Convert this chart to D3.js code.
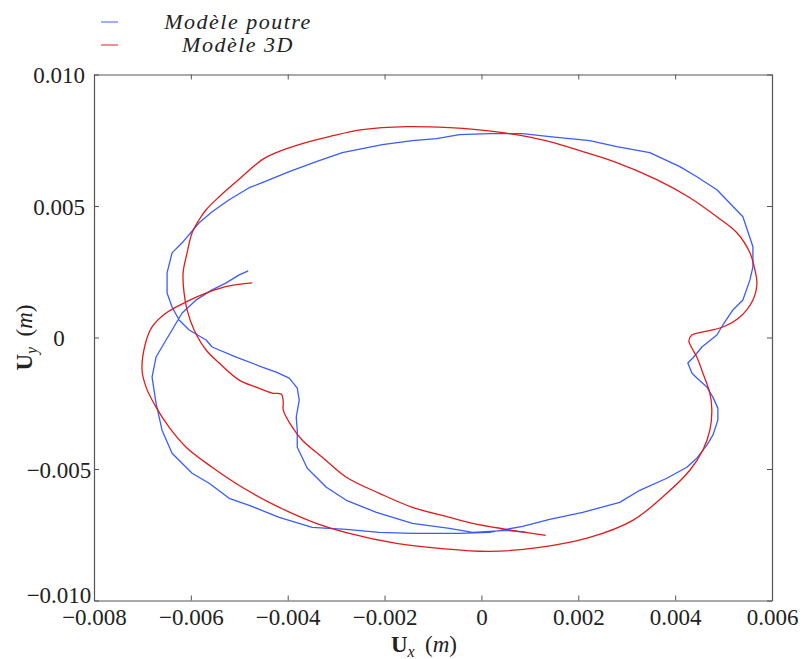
<!DOCTYPE html>
<html>
<head>
<meta charset="utf-8">
<script src="https://cdn.jsdelivr.net/npm/d3@7"></script>
<style>
  html, body { margin: 0; padding: 0; background: #fff; }
  svg { display: block; }
  text { font-family: "Liberation Serif", "DejaVu Serif", serif; fill: #222; }
</style>
</head>
<body>
<svg id="chart" width="803" height="659"></svg>
<script>
// ---- Data (metres) ----
const seriesNames = ["Modèle poutre", "Modèle 3D"];

const poutreX = [-0.004816,-0.005002,-0.005271,-0.005561,-0.005891,-0.006181,-0.006388,-0.006512,-0.006719,-0.006801,
  -0.006719,-0.006595,-0.006388,-0.005974,-0.005623,-0.005209,-0.004796,-0.004175,-0.003493,-0.002790,
  -0.002107,-0.001425,-0.000866,-0.000453,0.000168,0.000850,0.001408,0.002091,0.002856,0.003269,
  0.003828,0.004241,0.004448,0.004655,0.004779,0.004882,0.004882,0.004779,0.004655,0.004448,
  0.004345,0.004262,0.004365,0.004469,0.004552,0.004655,0.004862,0.004986,0.005193,0.005399,
  0.005544,0.005606,0.005606,0.005399,0.004862,0.004448,0.004097,0.003476,0.002794,0.002235,
  0.001408,0.000850,0.000168,-0.000453,-0.000928,-0.001425,-0.002045,-0.002872,-0.003410,-0.003968,
  -0.004527,-0.004796,-0.005209,-0.005561,-0.005829,-0.006181,-0.006388,-0.006491,-0.006491,-0.006388,
  -0.006243,-0.006036,-0.005685,-0.005561,-0.005064,-0.004527,-0.004237,-0.003968,-0.003803,-0.003762,
  -0.003824,-0.003803,-0.003803,-0.003596,-0.003203,-0.002790,-0.002169,-0.001425,-0.000660,-0.000184,
  0.000519,0.000933];
const poutreY = [0.002533,0.002381,0.002076,0.001810,0.001429,0.000933,0.000286,-0.000095,-0.000743,-0.001505,
  -0.002495,-0.003524,-0.004400,-0.005162,-0.005543,-0.006114,-0.006381,-0.006838,-0.007219,-0.007295,
  -0.007410,-0.007448,-0.007448,-0.007448,-0.007410,-0.007181,-0.006914,-0.006648,-0.006267,-0.005810,
  -0.005352,-0.004933,-0.004590,-0.004095,-0.003714,-0.003143,-0.002686,-0.002267,-0.001886,-0.001543,
  -0.001352,-0.000971,-0.000781,-0.000552,-0.000362,-0.000210,0.000095,0.000476,0.001048,0.001429,
  0.002190,0.002686,0.003448,0.004590,0.005619,0.006114,0.006495,0.007029,0.007257,0.007486,
  0.007638,0.007752,0.007752,0.007714,0.007562,0.007486,0.007333,0.007029,0.006686,0.006305,
  0.005886,0.005695,0.005238,0.004781,0.004362,0.003600,0.003219,0.002457,0.001695,0.001162,
  0.000667,0.000286,-0.000095,-0.000362,-0.000743,-0.001124,-0.001314,-0.001543,-0.001924,-0.002381,
  -0.003029,-0.003524,-0.004171,-0.004971,-0.005695,-0.006190,-0.006648,-0.007067,-0.007257,-0.007410,
  -0.007333,-0.007410];

const modele3dX = [-0.004733,-0.005209,-0.005623,-0.006098,-0.006512,-0.006801,-0.006946,-0.007008,-0.006925,-0.006719,
  -0.006450,-0.006098,-0.005561,-0.004940,-0.004175,-0.003410,-0.002728,-0.001756,-0.000866,0.000168,
  0.001201,0.002235,0.003125,0.003828,0.004303,0.004572,0.004717,0.004758,0.004717,0.004572,
  0.004448,0.004345,0.004283,0.004345,0.004572,0.004986,0.005337,0.005606,0.005689,0.005647,
  0.005544,0.005275,0.004862,0.004303,0.003621,0.002794,0.002091,0.001408,0.000581,-0.000101,
  -0.000660,-0.001549,-0.002459,-0.003141,-0.003699,-0.004237,-0.004527,-0.005064,-0.005416,-0.005685,
  -0.005829,-0.005974,-0.006078,-0.006160,-0.006140,-0.006078,-0.005933,-0.005685,-0.005416,-0.005002,
  -0.004651,-0.004320,-0.004134,-0.004092,-0.004092,-0.003906,-0.003699,-0.003286,-0.002790,-0.002107,
  -0.001425,-0.000660,-0.000184,0.000519,0.001326];
const modele3dY = [0.002076,0.001962,0.001733,0.001352,0.000933,0.000400,-0.000286,-0.001238,-0.001886,-0.002648,
  -0.003410,-0.004171,-0.004933,-0.005695,-0.006457,-0.007067,-0.007448,-0.007829,-0.008019,-0.008133,
  -0.007981,-0.007600,-0.006952,-0.005924,-0.005048,-0.004286,-0.003524,-0.002762,-0.002114,-0.001352,
  -0.000743,-0.000400,-0.000133,0.000095,0.000210,0.000400,0.000781,0.001429,0.002076,0.002571,
  0.003219,0.003981,0.004590,0.005314,0.006000,0.006648,0.007067,0.007448,0.007752,0.007905,
  0.007981,0.008019,0.007905,0.007638,0.007371,0.007029,0.006762,0.005924,0.005352,0.004857,
  0.004476,0.003981,0.003219,0.002457,0.001695,0.001048,0.000286,-0.000476,-0.000971,-0.001619,
  -0.001886,-0.002114,-0.002152,-0.002457,-0.002762,-0.003410,-0.003905,-0.004552,-0.005314,-0.005924,
  -0.006457,-0.006838,-0.007067,-0.007295,-0.007524];

const xTicks = [-0.008,-0.006,-0.004,-0.002,0,0.002,0.004,0.006];
const xTickLabels = ["\u22120.008","\u22120.006","\u22120.004","\u22120.002","0","0.002","0.004","0.006"];
const yTicks = [-0.010,-0.005,0,0.005,0.010];
const yTickLabels = ["\u22120.010","\u22120.005","0","0.005","0.010"];
const colors = ["#3a5cff","#e01b1b"];

// ---- Layout ----
const svg = d3.select("#chart");
const L = 94, R = 772, T = 74.5, B = 600.5;
const x = d3.scaleLinear().domain([-0.008, 0.006]).range([L, R]);
const y = d3.scaleLinear().domain([-0.010, 0.010]).range([B, T]);

const series = [
  {name: seriesNames[0], pts: poutreX.map((v,i)=>[v, poutreY[i]]), color: colors[0], curve: d3.curveLinear},
  {name: seriesNames[1], pts: modele3dX.map((v,i)=>[v, modele3dY[i]]), color: colors[1], curve: d3.curveCatmullRom.alpha(0.5)}
];

series.forEach(s => {
  const line = d3.line().x(d=>x(d[0])).y(d=>y(d[1])).curve(s.curve);
  svg.append("path").datum(s.pts)
    .attr("d", line)
    .attr("fill","none")
    .attr("stroke", s.color)
    .attr("stroke-width", 1.3)
    .attr("stroke-linejoin","round");
});

// ---- Axes (ticks inward on all sides) ----
const tickLen = 5;
const axisStyle = g => {
  g.select(".domain").attr("stroke","#555").attr("stroke-width",1.2);
  g.selectAll(".tick line").attr("stroke","#555").attr("stroke-width",1);
};
svg.append("g").attr("transform",`translate(0,${B})`)
  .call(d3.axisBottom(x).tickValues(xTicks).tickSizeInner(-tickLen).tickSizeOuter(0)
    .tickFormat((d,i)=>xTickLabels[i]))
  .call(axisStyle)
  .call(g => g.selectAll(".tick text").attr("y", 24).attr("dy",0)
    .style("font-size","23px").attr("fill","#222"));
svg.append("g").attr("transform",`translate(0,${T})`)
  .call(d3.axisTop(x).tickValues(xTicks).tickSizeInner(-tickLen).tickSizeOuter(0).tickFormat(""))
  .call(axisStyle);
svg.append("g").attr("transform",`translate(${L},0)`)
  .call(d3.axisLeft(y).tickValues(yTicks).tickSizeInner(-tickLen).tickSizeOuter(0)
    .tickFormat((d,i)=>yTickLabels[i]))
  .call(axisStyle)
  .call(g => g.selectAll(".tick text").attr("x", 59 - L)
    .attr("dy", d => d === -0.010 ? "0.1em" : "0.35em")
    .attr("text-anchor","middle").style("font-size","23px").attr("fill","#222"));
svg.append("g").attr("transform",`translate(${R},0)`)
  .call(d3.axisRight(y).tickValues(yTicks).tickSizeInner(-tickLen).tickSizeOuter(0).tickFormat(""))
  .call(axisStyle);

// ---- Axis titles ----
const xt = svg.append("text").attr("x", 424).attr("y", 652)
  .attr("text-anchor","middle").style("font-size","23px");
xt.append("tspan").attr("font-weight","bold").text("U");
xt.append("tspan").attr("font-style","italic").attr("dy",5).style("font-size","16px").text("x");
xt.append("tspan").attr("dy",-5).text("\u2009 (");
xt.append("tspan").attr("font-style","italic").text("m");
xt.append("tspan").text(")");

const yt = svg.append("text").attr("transform",`translate(32,${(T+B)/2}) rotate(-90)`)
  .attr("text-anchor","middle").style("font-size","23px");
yt.append("tspan").attr("font-weight","bold").text("U");
yt.append("tspan").attr("font-style","italic").attr("dy",5).style("font-size","16px").text("y");
yt.append("tspan").attr("dy",-5).text("\u2009 (");
yt.append("tspan").attr("font-style","italic").text("m");
yt.append("tspan").text(")");

// ---- Legend ----
const leg = svg.append("g");
series.forEach((s,i) => {
  const cy = 22 + i*23;
  leg.append("line").attr("x1",101).attr("x2",118).attr("y1",cy).attr("y2",cy)
    .attr("stroke", s.color).attr("stroke-width",1.3).attr("opacity",0.75);
  leg.append("text").attr("x",238).attr("y",cy+7).attr("text-anchor","middle")
    .attr("font-style","italic").style("font-size","22px").style("letter-spacing","1.5px")
    .text(s.name);
});
</script>
</body>
</html>
